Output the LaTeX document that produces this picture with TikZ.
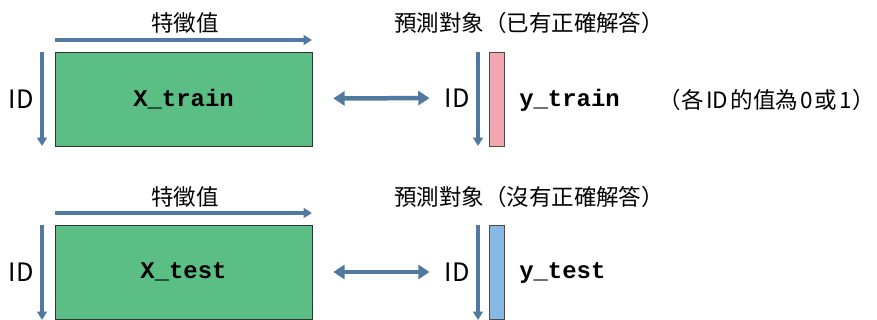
\documentclass[tikz,border=0pt]{standalone}
\usepackage{fontspec}
\setmainfont{Noto Sans CJK TC}
\setmonofont{Liberation Mono}
\usetikzlibrary{positioning}
\usetikzlibrary{arrows.meta}

\definecolor{boxgreen}{RGB}{91,191,133}
\definecolor{arrowblue}{RGB}{82,122,160}
\definecolor{barpink}{RGB}{244,166,176}
\definecolor{barblue}{RGB}{136,185,229}

\tikzset{
	databox/.style = {draw = black!80, fill = boxgreen, minimum width = 6.425cm, minimum height = 2.35cm, inner sep = 0pt, font = \fontsize{17}{20}\selectfont\ttfamily\bfseries},
	targetbar/.style = {draw = black!70, minimum width = 0.375cm, minimum height = 2.35cm, inner sep = 0pt},
	axis/.style = {draw = arrowblue, line width = 2.2pt, -{Triangle[length = 6pt, width = 7pt]}},
	link/.style = {draw = arrowblue, line width = 3.2pt, {Triangle[length = 8pt, width = 10pt]}-{Triangle[length = 8pt, width = 10pt]}},
	caption/.style = {inner sep = 0pt, font = \fontsize{16}{19}\selectfont},
	idlabel/.style = {inner sep = 0pt, font = \fontsize{18}{20}\selectfont},
	code/.style = {inner sep = 0pt, anchor = west, font = \fontsize{17}{20}\selectfont\ttfamily\bfseries}
}

\begin{document}
\begin{tikzpicture}[x = 0.025cm, y = -0.025cm]
	\useasboundingbox (0,0) rectangle (877,320);
	% training data
	\node[databox] (xtrain) at (183.5,99) {X\_train};
	\node[caption] (feattrain) at (185,23) {特徵值};
	\coordinate (feattrainL) at (55,40);
	\coordinate (feattrainR) at (312,40);
	\draw[axis] (feattrainL) -- (feattrainR);
	\node[idlabel] (idxtrain) at (21,99) {ID};
	\coordinate (idtrainT) at (42,52);
	\coordinate (idtrainB) at (42,146);
	\draw[axis] (idtrainT) -- (idtrainB);
	\node[idlabel] (idytrain) at (457,98) {ID};
	\draw[link, shorten <= 0.525cm, shorten >= 0.37cm] (xtrain) -- (idytrain);
	\node[targetbar, fill = barpink] (bartrain) at (496.5,99) {};
	\coordinate (idytrainT) at (478,52);
	\coordinate (idytrainB) at (478,146);
	\draw[axis] (idytrainT) -- (idytrainB);
	\node[code] (ytrain) at (519,100) {y\_train};
	\node[caption, anchor = east] (notetrain) at (875,100) {（各\hspace{0.1em}ID\hspace{0.1em}的值為\hspace{0.1em}0\hspace{0.1em}或\hspace{0.1em}1）};
	\node[caption] (targettrain) at (529,23) {預測對象（已有正確解答）};
	% test data
	\node[databox] (xtest) at (183.5,272) {X\_test};
	\node[caption] (feattest) at (185,197) {特徵值};
	\coordinate (feattestL) at (55,213);
	\coordinate (feattestR) at (312,213);
	\draw[axis] (feattestL) -- (feattestR);
	\node[idlabel] (idxtest) at (21,272) {ID};
	\coordinate (idtestT) at (42,225);
	\coordinate (idtestB) at (42,320);
	\draw[axis] (idtestT) -- (idtestB);
	\node[idlabel] (idytest) at (457,272) {ID};
	\draw[link, shorten <= 0.525cm, shorten >= 0.37cm] (xtest) -- (idytest);
	\node[targetbar, fill = barblue] (bartest) at (496.5,272) {};
	\coordinate (idytestT) at (478,225);
	\coordinate (idytestB) at (478,320);
	\draw[axis] (idytestT) -- (idytestB);
	\node[code] (ytest) at (519,273) {y\_test};
	\node[caption] (targettest) at (529,197) {預測對象（沒有正確解答）};
\end{tikzpicture}
\end{document}
